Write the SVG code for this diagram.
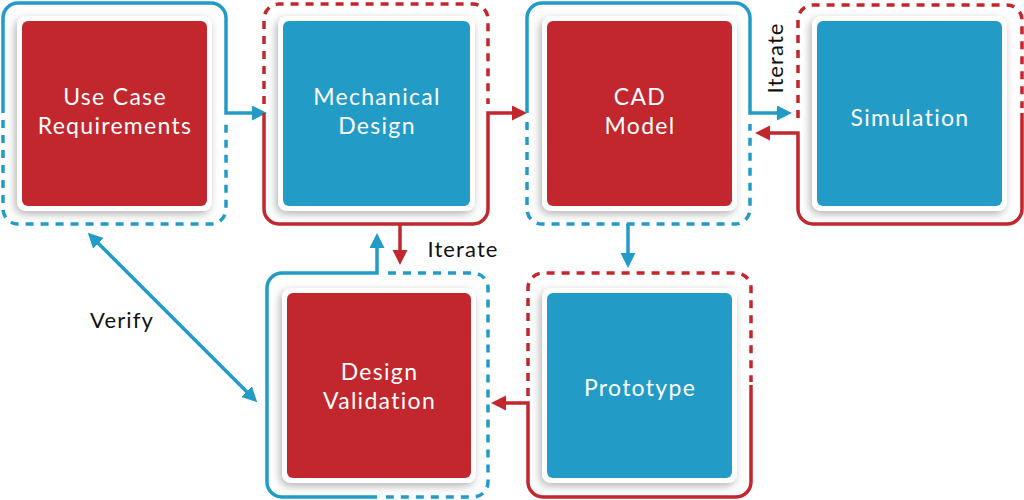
<svg xmlns="http://www.w3.org/2000/svg" width="1024" height="500" viewBox="0 0 1024 500">
<defs>
<style>
.bg{fill:#fff}
.card{fill:#fff;filter:url(#sh)}
.red{fill:#C1272D}
.blue{fill:#229BC7}
.lbl{font-family:Lato,"Open Sans",sans-serif;font-size:23px;letter-spacing:1.3px;fill:#fff;text-anchor:middle}
.note{font-family:Lato,"Open Sans",sans-serif;font-size:22px;letter-spacing:1.1px;fill:#111;text-anchor:middle}
.sb{fill:none;stroke:#229BC7;stroke-width:3.5}
.sr{fill:none;stroke:#C1272D;stroke-width:3.5}
.db{fill:none;stroke:#229BC7;stroke-width:3.5;stroke-dasharray:8 7}
.dr{fill:none;stroke:#C1272D;stroke-width:3.5;stroke-dasharray:8 7}
</style>
<filter id="sh" x="-20%" y="-20%" width="140%" height="140%">
<feDropShadow dx="-2" dy="3" stdDeviation="4" flood-color="#000" flood-opacity="0.3"/>
</filter>
<marker id="ab" markerUnits="userSpaceOnUse" markerWidth="16" markerHeight="16" refX="2" refY="7.5" orient="auto-start-reverse" viewBox="0 0 16 16">
<path d="M0,0 L15,7.5 L0,15 z" fill="#229BC7"/>
</marker>
<marker id="ar" markerUnits="userSpaceOnUse" markerWidth="16" markerHeight="16" refX="2" refY="7.5" orient="auto" viewBox="0 0 16 16">
<path d="M0,0 L15,7.5 L0,15 z" fill="#C1272D"/>
</marker>
</defs>
<rect class="bg" width="1024" height="500"/>

<g id="connectors">
<path class="sb" d="M3,113 V18 A15,15 0 0 1 18,3 H211 A15,15 0 0 1 226,18 V113 H254" marker-end="url(#ab)"/>
<path class="db" d="M3,120 V209 A15,15 0 0 0 18,224 H211 A15,15 0 0 0 226,209 V124"/>
<path class="dr" d="M264,104 V19 A15,15 0 0 1 279,4 H473 A15,15 0 0 1 488,19 V104"/>
<path class="sr" d="M264,113 V209 A15,15 0 0 0 279,224 H473 A15,15 0 0 0 488,209 V113 H514" marker-end="url(#ar)"/>
<path class="sr" d="M400,224 V252" marker-end="url(#ar)"/>
<path class="sb" d="M527,113 V18 A15,15 0 0 1 542,3 H735 A15,15 0 0 1 750,18 V113 H779" marker-end="url(#ab)"/>
<path class="db" d="M527,122 V209 A15,15 0 0 0 542,224 H735 A15,15 0 0 0 750,209 V124"/>
<path class="sb" d="M628,224 V255" marker-end="url(#ab)"/>
<path class="dr" d="M798,118 V20 A15,15 0 0 1 813,5 H1007 A15,15 0 0 1 1022,20 V108"/>
<path class="sr" d="M1022,113 V209 A15,15 0 0 1 1007,224 H813 A15,15 0 0 1 798,209 V133 H768" marker-end="url(#ar)"/>
<path class="dr" d="M528,396 V288 A15,15 0 0 1 543,273 H736 A15,15 0 0 1 751,288 V382"/>
<path class="sr" d="M751,385 V482 A15,15 0 0 1 736,497 H543 A15,15 0 0 1 528,482 V403 H504" marker-end="url(#ar)"/>
<path class="sb" d="M377,497 H282 A15,15 0 0 1 267,482 V288 A15,15 0 0 1 282,273 H377 V246" marker-end="url(#ab)"/>
<path class="db" d="M388,273 H473 A15,15 0 0 1 488,288 V482 A15,15 0 0 1 473,497 H386"/>
<path class="sb" d="M97,242 L248,393" marker-start="url(#ab)" marker-end="url(#ab)"/>
<text class="note" transform="translate(783,58) rotate(-90)">Iterate</text>
<text class="note" x="463" y="257">Iterate</text>
<text class="note" x="122" y="328">Verify</text>
</g>

<g id="use-case">
<rect class="card" x="17" y="16" width="195" height="195" rx="9"/>
<rect class="red" x="22" y="21" width="185" height="185" rx="6"/>
<text class="lbl" x="115" y="105">Use Case</text>
<text class="lbl" x="115" y="134">Requirements</text>
</g>
<g id="mechanical-design">
<rect class="card" x="278" y="16" width="197" height="195" rx="9"/>
<rect class="blue" x="283" y="21" width="187" height="185" rx="6"/>
<text class="lbl" x="377" y="105">Mechanical</text>
<text class="lbl" x="377" y="134">Design</text>
</g>
<g id="cad-model">
<rect class="card" x="542" y="16" width="195" height="195" rx="9"/>
<rect class="red" x="547" y="21" width="185" height="185" rx="6"/>
<text class="lbl" x="640" y="105">CAD</text>
<text class="lbl" x="640" y="134">Model</text>
</g>
<g id="simulation">
<rect class="card" x="812" y="16" width="195" height="195" rx="9"/>
<rect class="blue" x="817" y="21" width="185" height="185" rx="6"/>
<text class="lbl" x="910" y="126">Simulation</text>
</g>
<g id="prototype">
<rect class="card" x="542" y="288" width="195" height="195" rx="9"/>
<rect class="blue" x="547" y="293" width="185" height="185" rx="6"/>
<text class="lbl" x="640" y="396">Prototype</text>
</g>
<g id="design-validation">
<rect class="card" x="282" y="288" width="194" height="195" rx="9"/>
<rect class="red" x="287" y="293" width="184" height="185" rx="6"/>
<text class="lbl" x="379.5" y="380">Design</text>
<text class="lbl" x="379.5" y="409">Validation</text>
</g>
</svg>
